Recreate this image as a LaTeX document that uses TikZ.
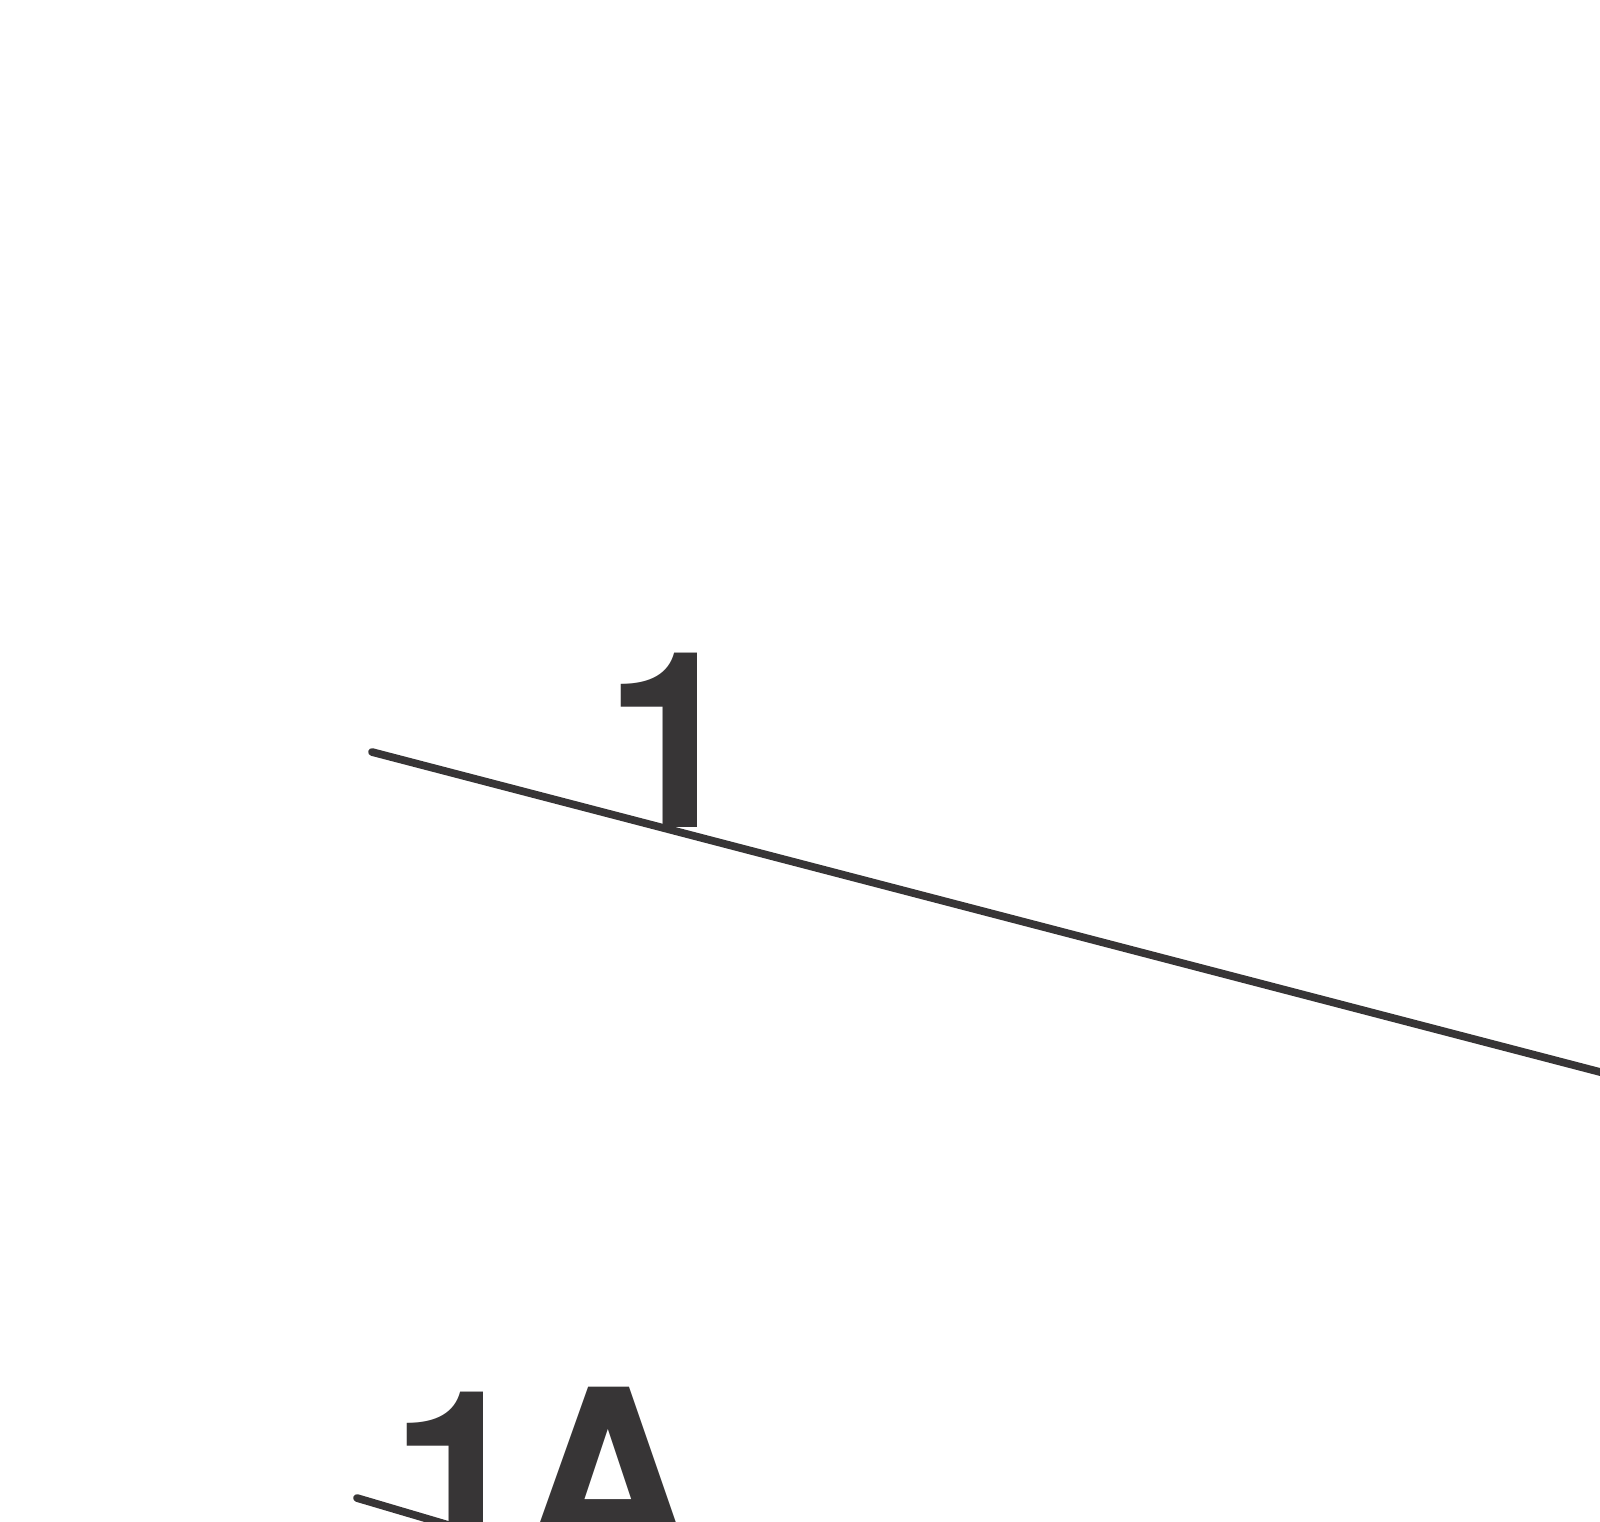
\documentclass[tikz,border=0pt]{standalone}
\usepackage{fontspec}
\setmainfont{TeX Gyre Heros}
\usepackage{xcolor}
\definecolor{inkgray}{RGB}{55,53,54}
\usepackage{tikz}
\tikzset{
    callout/.style={inner sep=0pt, anchor=base west, text=inkgray,
        font=\fontsize{70}{84}\selectfont\bfseries},
    leader/.style={draw=inkgray, line width=2.2pt, line cap=round}
}

\begin{document}
\begin{tikzpicture}[x=1cm, y=-1cm]
            \useasboundingbox (0,0) rectangle (16,15.21);
            \clip (0,0) rectangle (16,15.21);

            \coordinate (one-start) at (3.72,7.52);
            \coordinate (one-end) at (16.5,10.85);
            \coordinate (onea-start) at (3.57,14.98);
            \coordinate (onea-end) at (5.5,15.55);

            \draw[leader] (one-start) -- (one-end);
            \draw[leader] (onea-start) -- (onea-end);

            \node[callout] (label-one) at (6.04,8.27) {1};
            \node[callout] (label-onea) at (3.90,15.66) {1\kern-0.09cm A};
          \end{tikzpicture}
\end{document}
